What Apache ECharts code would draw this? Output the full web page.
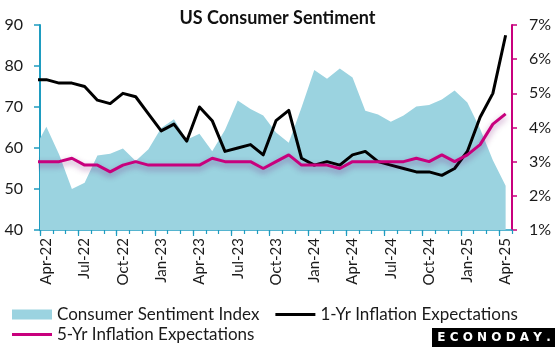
<!DOCTYPE html>
<html>
<head>
<meta charset="utf-8">
<script src="https://cdn.jsdelivr.net/npm/echarts@6/dist/echarts.min.js"></script>
<style>
html,body{margin:0;padding:0;background:#fff;}
#chart{width:555px;height:347px;}
</style>
</head>
<body>
<div id="chart"></div>
<script>
// First entry (Mar-22) lies just before the visible window and is clipped at the left edge.
const months = ['Mar-22','Apr-22','May-22','Jun-22','Jul-22','Aug-22','Sep-22','Oct-22','Nov-22','Dec-22',
  'Jan-23','Feb-23','Mar-23','Apr-23','May-23','Jun-23','Jul-23','Aug-23','Sep-23','Oct-23','Nov-23','Dec-23',
  'Jan-24','Feb-24','Mar-24','Apr-24','May-24','Jun-24','Jul-24','Aug-24','Sep-24','Oct-24','Nov-24','Dec-24',
  'Jan-25','Feb-25','Mar-25','Apr-25'];
const sentiment = [59.4,65.2,58.4,50.0,51.5,58.2,58.6,59.9,56.8,59.7,
  64.9,67.0,62.0,63.5,59.2,64.4,71.6,69.5,67.9,63.8,61.3,69.9,
  79.0,76.9,79.4,77.2,69.1,68.2,66.4,67.9,70.1,70.5,71.8,74.0,
  71.1,64.7,57.0,50.8];
const infl1yr = [5.4,5.4,5.3,5.3,5.2,4.8,4.7,5.0,4.9,4.4,
  3.9,4.1,3.6,4.6,4.2,3.3,3.4,3.5,3.2,4.2,4.5,3.1,
  2.9,3.0,2.9,3.2,3.3,3.0,2.9,2.8,2.7,2.7,2.6,2.8,
  3.3,4.3,5.0,6.7];
const infl5yr = [3.0,3.0,3.0,3.1,2.9,2.9,2.7,2.9,3.0,2.9,
  2.9,2.9,2.9,2.9,3.1,3.0,3.0,3.0,2.8,3.0,3.2,2.9,
  2.9,2.9,2.8,3.0,3.0,3.0,3.0,3.0,3.1,3.0,3.2,3.0,
  3.2,3.5,4.1,4.4];
const leftTicks = {min:40, max:90, interval:10};
const rightTicks = {min:1, max:7, interval:1};

const visibleMonths = months.slice(1);
const nCat = visibleMonths.length;
const toXY = arr => arr.map((v,i) => [i - 0.5, v]);
const majorTicks = [];
for (let i = 0; i <= nCat - 1; i += 3) majorTicks.push(i);

const TEAL = '#1e9cc0';
const MAG = '#c8007d';
const AREA = '#9bd3e0';
const FONT = 'Lato';
// legend line icon: 40x10 box with a 3px bar in the middle
const LINE_ICON = 'path://M0,0 M0,10 M0,3.5 L40,3.5 L40,6.5 L0,6.5 Z';

const chart = echarts.init(document.getElementById('chart'), null, {renderer:'canvas'});
const grid = {left:40, right:43, top:25, bottom:117, containLabel:false};

const option = {
  animation:false,
  backgroundColor:'#fff',
  title:{text:'US Consumer Sentiment', left:'center', top:4,
    textStyle:{fontFamily:FONT, fontWeight:'bold', fontSize:18, color:'#111'}},
  grid:grid,
  legend:[
    {left:12, top:306, itemWidth:40, itemHeight:10, itemGap:16, padding:0,
      textStyle:{fontFamily:FONT, fontSize:17, color:'#1a1a1a'},
      data:[{name:'Consumer Sentiment Index', icon:'rect'}, {name:'1-Yr Inflation Expectations', icon:LINE_ICON}]},
    {left:12, top:326, itemWidth:40, itemHeight:10, padding:0,
      textStyle:{fontFamily:FONT, fontSize:17, color:'#1a1a1a'},
      data:[{name:'5-Yr Inflation Expectations', icon:LINE_ICON}]}
  ],
  xAxis:[
    {type:'category', data:visibleMonths, boundaryGap:true, position:'bottom',
      axisLine:{show:true, onZero:false, lineStyle:{color:TEAL, width:1.5}},
      axisTick:{show:true, interval:0, length:4, lineStyle:{color:TEAL, width:1.2}},
      axisLabel:{interval:2, rotate:90, margin:8, fontFamily:FONT, fontSize:15, color:'#1a1a1a'},
      splitLine:{show:false}},
    {type:'value', min:0, max:nCat, position:'bottom', show:true,
      axisLine:{show:false, onZero:false}, axisLabel:{show:false}, splitLine:{show:false},
      axisTick:{show:true, inside:true, length:6, customValues:majorTicks, lineStyle:{color:TEAL, width:1.2}}},
    {type:'value', min:0, max:nCat, position:'bottom', show:true,
      axisLine:{show:false, onZero:false}, axisLabel:{show:false}, splitLine:{show:false},
      axisTick:{show:true, inside:false, length:6, customValues:majorTicks, lineStyle:{color:TEAL, width:1.2}}}
  ],
  yAxis:[
    {type:'value', position:'left', min:leftTicks.min, max:leftTicks.max, interval:leftTicks.interval,
      axisLine:{show:true, onZero:false, lineStyle:{color:TEAL, width:2}},
      axisTick:{show:true, length:6, lineStyle:{color:TEAL, width:1.5}},
      axisLabel:{margin:17, fontFamily:FONT, fontSize:16, color:'#1a1a1a'},
      splitLine:{show:false}},
    {type:'value', position:'right', min:rightTicks.min, max:rightTicks.max, interval:rightTicks.interval,
      axisLine:{show:true, onZero:false, lineStyle:{color:MAG, width:2}},
      axisTick:{show:true, length:5, lineStyle:{color:MAG, width:1.5}},
      axisLabel:{margin:17, formatter:'{value}%', fontFamily:FONT, fontSize:16, color:'#1a1a1a'},
      splitLine:{show:false}}
  ],
  series:[
    {name:'Consumer Sentiment Index', type:'line', xAxisIndex:1, yAxisIndex:0,
      data:toXY(sentiment), symbol:'none', clip:true, z:1,
      lineStyle:{width:0, color:AREA}, itemStyle:{color:AREA},
      areaStyle:{color:AREA, opacity:1}},
    {name:'1-Yr Inflation Expectations', type:'line', xAxisIndex:1, yAxisIndex:1,
      data:toXY(infl1yr), symbol:'none', clip:true, z:3,
      lineStyle:{width:3, color:'#000', join:'round'}, itemStyle:{color:'#000'}},
    {name:'5-Yr Inflation Expectations', type:'line', xAxisIndex:1, yAxisIndex:1,
      data:toXY(infl5yr), symbol:'none', clip:true, z:4,
      lineStyle:{width:3, color:MAG, shadowColor:'rgba(110,0,110,0.45)', shadowBlur:6, shadowOffsetY:3},
      itemStyle:{color:MAG}}
  ],
  graphic:[
    {type:'group', right:0, bottom:0, children:[
      {type:'rect', shape:{x:0, y:0, width:123, height:19}, style:{fill:'#000'}},
      {type:'text', x:62, y:10, style:{text:'E C O N O D A Y .', fill:'#fff',
        font:'bold 12px "DejaVu Sans"', textAlign:'center', textVerticalAlign:'middle'}}
    ]}
  ]
};
chart.setOption(option);
</script>
</body>
</html>
